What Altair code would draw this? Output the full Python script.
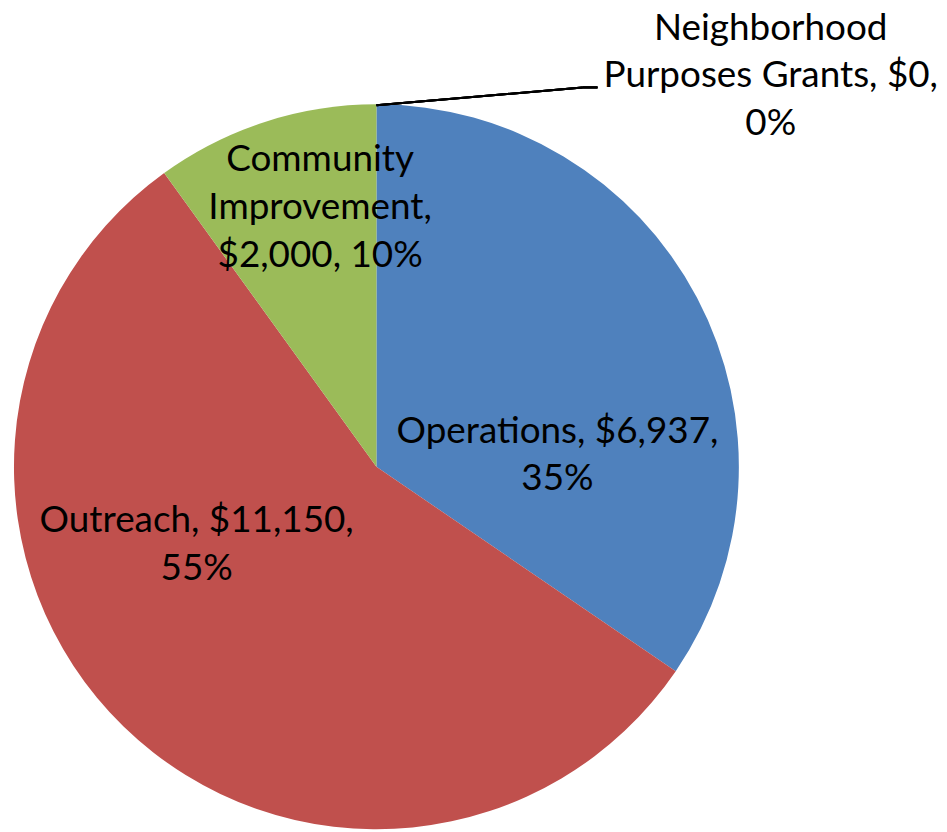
import altair as alt
import pandas as pd

categories = ["Operations", "Outreach", "Community Improvement", "Neighborhood Purposes Grants"]
amounts = [6937, 11150, 2000, 0]
label_lines = [
    ["Operations, $6,937,", "35%"],
    ["Outreach, $11,150,", "55%"],
    ["Community", "Improvement,", "$2,000, 10%"],
    ["Neighborhood", "Purposes Grants, $0,", "0%"],
]
colors = ["#4F81BD", "#C0504D", "#9BBB59", "#8064A2"]

df = pd.DataFrame({
    "category": categories,
    "amount": amounts,
    "order": list(range(len(categories))),
    "label": ["\n".join(l) for l in label_lines],
})

TOTAL = sum(amounts)
CX, CY, R = 370, 459, 364
FONT = "Lato"
FS = 37
theta_scale = alt.Scale(domain=[0, TOTAL])

pie = alt.Chart(df).mark_arc(outerRadius=R, strokeWidth=0).encode(
    theta=alt.Theta("amount:Q", stack=True, scale=theta_scale),
    order=alt.Order("order:Q"),
    x=alt.value(CX),
    y=alt.value(CY),
    color=alt.Color("category:N", scale=alt.Scale(domain=categories, range=colors), legend=None),
)

text_base = alt.Chart(df).transform_window(
    cum="sum(amount)", sort=[alt.SortField("order")], frame=[None, 0]
).transform_calculate(
    mid="datum.cum - datum.amount / 2"
)

def label_layer(cat, radius, dx, dy):
    return text_base.transform_filter(alt.datum.category == cat).mark_text(
        radius=radius, dx=dx, dy=dy, font=FONT, fontSize=FS, lineHeight=48,
        lineBreak="\n", align="center", baseline="middle", color="black"
    ).encode(
        theta=alt.Theta("mid:Q", stack=False, scale=theta_scale),
        x=alt.value(CX),
        y=alt.value(CY),
        text="label:N",
    )

labels = [
    label_layer("Operations", 200, 5, 58),
    label_layer("Outreach", 200, -41, -89),
    label_layer("Community Improvement", 265, 25, -56),
    label_layer("Neighborhood Purposes Grants", 394, 396, -46),
]

leader1 = alt.Chart(df).mark_rule(color="black", strokeWidth=2).encode(
    x=alt.value(CX), y=alt.value(CY - R + 1), x2=alt.value(577), y2=alt.value(78)
)
leader2 = alt.Chart(df).mark_rule(color="black", strokeWidth=2).encode(
    x=alt.value(577), y=alt.value(78), x2=alt.value(592), y2=alt.value(78)
)

chart = alt.layer(pie, leader1, leader2, *labels).properties(
    width=925, height=810, padding=0
).configure_view(stroke=None)

chart.save("out.html", embed_options={"renderer": "svg", "actions": False})
